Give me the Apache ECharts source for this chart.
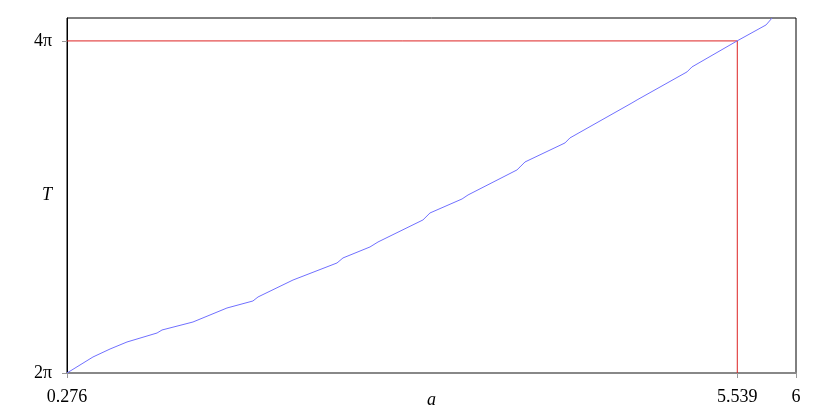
<!DOCTYPE html>
<html>
<head>
<meta charset="utf-8">
<script src="https://cdn.jsdelivr.net/npm/echarts@6/dist/echarts.min.js"></script>
<style>html,body{margin:0;padding:0;background:#fff}#c{width:830px;height:415px}</style>
</head>
<body>
<div id="c"></div>
<script>
var PI = Math.PI;
var aValues = [0.276, 0.480, 0.614, 0.747, 0.983, 1.022, 1.265, 1.532, 1.736, 1.776, 2.051, 2.396, 2.443, 2.655, 2.718, 3.071, 3.126, 3.378, 3.425, 3.809, 3.833, 3.872, 4.186, 4.225, 4.712, 4.752, 5.144, 5.183, 5.537, 5.765, 5.812];
var tValues = [6.283, 6.586, 6.737, 6.870, 7.040, 7.097, 7.248, 7.513, 7.646, 7.722, 8.043, 8.365, 8.460, 8.668, 8.762, 9.179, 9.311, 9.576, 9.652, 10.125, 10.182, 10.276, 10.636, 10.731, 11.393, 11.450, 11.980, 12.074, 12.566, 12.869, 13.0];
var xTicks = [0.276, 5.539, 6];
var yTicks = [2 * PI, 4 * PI];
var yTickLabels = ['2π', '4π'];
var refA = 5.539;
var refT = 4 * PI;

var curve = aValues.map(function (a, i) { return [a, tValues[i]]; });
var refLine = [[xTicks[0], refT], [refA, refT], [refA, yTicks[0]]];
var font = 'Liberation Serif';

var chart = echarts.init(document.getElementById('c'), null, {renderer: 'canvas'});
chart.setOption({
  animation: false,
  backgroundColor: '#fff',
  grid: {left: 67, right: 34, top: 18, bottom: 42, show: true, borderColor: '#000', borderWidth: 1,
    backgroundColor: 'transparent', containLabel: false, outerBoundsMode: 'none'},
  xAxis: {
    type: 'value', min: 0.276, max: 6,
    name: 'a', nameLocation: 'middle', nameGap: 18, nameMoveOverlap: false,
    nameTextStyle: {fontFamily: font, fontSize: 18, fontStyle: 'italic', color: '#000'},
    axisLine: {show: true, lineStyle: {color: '#888', width: 2}},
    axisTick: {show: true, length: 5, customValues: xTicks, lineStyle: {color: '#999'}},
    axisLabel: {customValues: xTicks, margin: 15, fontFamily: font, fontSize: 18, color: '#000',
      formatter: function (v) { return String(xTicks.find(function (t) { return Math.abs(t - v) < 1e-6; })); }},
    splitLine: {show: false}
  },
  yAxis: {
    type: 'value', min: 2 * PI, max: 13,
    name: 'T', nameLocation: 'middle', nameRotate: 0, nameGap: 15, nameMoveOverlap: false,
    nameTextStyle: {fontFamily: font, fontSize: 18, fontStyle: 'italic', color: '#000'},
    axisLine: {show: true, lineStyle: {color: '#000', width: 1}},
    axisTick: {show: true, length: 5, customValues: yTicks, lineStyle: {color: '#999'}},
    axisLabel: {customValues: yTicks, margin: 15, fontFamily: font, fontSize: 18, color: '#000',
      formatter: function (v) {
        for (var i = 0; i < yTicks.length; i++) if (Math.abs(yTicks[i] - v) < 1e-6) return yTickLabels[i];
        return '';
      }},
    splitLine: {show: false}
  },
  series: [
    {type: 'line', data: refLine, symbol: 'none', lineStyle: {color: '#dd2222', width: 1}, z: 1},
    {type: 'line', data: curve, symbol: 'none', smooth: false, lineStyle: {color: '#7070ff', width: 1}, z: 2}
  ]
});
</script>
</body>
</html>
